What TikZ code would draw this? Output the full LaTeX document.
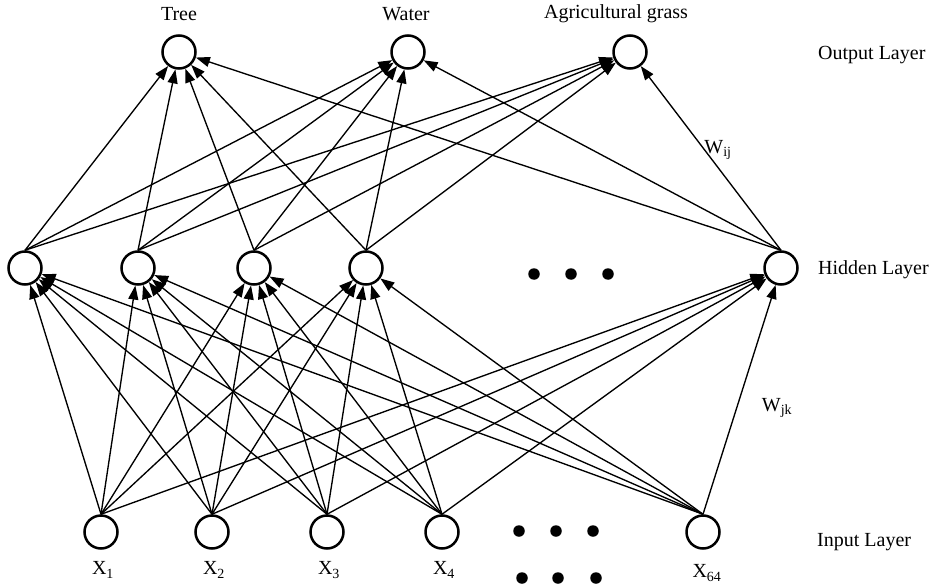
\documentclass[tikz,border=0pt]{standalone}
\usepackage{fontspec}
\setmainfont{Liberation Serif}
\usetikzlibrary{arrows.meta}
\begin{document}
\begin{tikzpicture}[x=1pt,y=-1pt,
  neuron/.style={circle,draw,line width=2.5pt,minimum size=33pt,inner sep=0pt},
  link/.style={line width=1.35pt,-{Triangle[length=14pt,width=10pt]}},
  dotmark/.style={circle,fill,inner sep=0pt,minimum size=11.5pt},
  lbl/.style={font=\fontsize{20}{22}\selectfont,inner sep=0pt}]
\useasboundingbox (0,0) rectangle (941,585);
% output layer
\node[neuron] (o1) at (179,52) {};
\node[neuron] (o2) at (408,52) {};
\node[neuron] (o3) at (630,52) {};
\node[lbl] (lo1) at (179,14) {Tree};
\node[lbl] (lo2) at (406,14) {Water};
\node[lbl] (lo3) at (616,14) {Agricultural grass};
% hidden layer
\node[neuron] (h1) at (25,268) {};
\node[neuron] (h2) at (138,268) {};
\node[neuron] (h3) at (254,268) {};
\node[neuron] (h4) at (366,268) {};
\node[neuron] (h5) at (781,268) {};
\node[dotmark] (hd1) at (534,274) {};
\node[dotmark] (hd2) at (571,274) {};
\node[dotmark] (hd3) at (608,274) {};
% input layer
\node[neuron] (i1) at (101,532) {};
\node[neuron] (i2) at (212,532) {};
\node[neuron] (i3) at (327,532) {};
\node[neuron] (i4) at (442,532) {};
\node[neuron] (i5) at (703,532) {};
\node[dotmark] (id1) at (519,531) {};
\node[dotmark] (id2) at (556,531) {};
\node[dotmark] (id3) at (593,531) {};
\node[dotmark] (id4) at (522,578) {};
\node[dotmark] (id5) at (558,578) {};
\node[dotmark] (id6) at (596,578) {};
\node[lbl] (li1) at (103,570) {X\textsubscript{1}};
\node[lbl] (li2) at (214,570) {X\textsubscript{2}};
\node[lbl] (li3) at (329,570) {X\textsubscript{3}};
\node[lbl] (li4) at (444,570) {X\textsubscript{4}};
\node[lbl] (li5) at (707,573) {X\textsubscript{64}};
% layer names
\node[lbl,anchor=west] (nout) at (818,55) {Output Layer};
\node[lbl,anchor=west] (nhid) at (818,270) {Hidden Layer};
\node[lbl,anchor=west] (ninp) at (817,542) {Input Layer};
% weights
\node[lbl] (wij) at (718,150) {W\textsubscript{ij}};
\node[lbl] (wjk) at (777,408) {W\textsubscript{jk}};
% connections
\foreach \h in {1,...,5}
  \foreach \o in {1,2,3}
    \draw[link] (h\h.north) -- (o\o);
\foreach \i in {1,...,5}
  \foreach \h in {1,...,5}
    \draw[link] (i\i.north) -- (h\h);
\end{tikzpicture}
\end{document}
